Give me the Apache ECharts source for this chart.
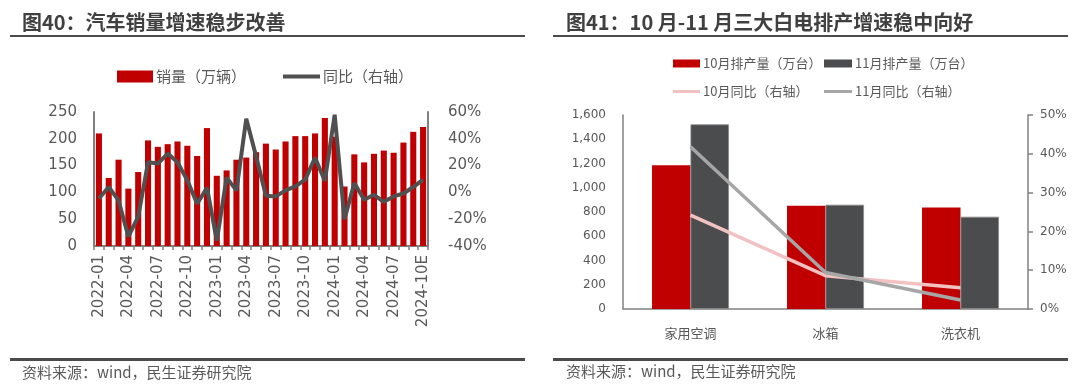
<!DOCTYPE html>
<html>
<head>
<meta charset="utf-8">
<script src="https://cdn.jsdelivr.net/npm/echarts@6/dist/echarts.min.js"></script>
<style>
html,body{margin:0;padding:0;background:#fff;}
#main{width:1080px;height:390px;}
</style>
</head>
<body>
<div id="main"></div>
<script>
// ---- Left chart data ----
var months = ['2022-01','2022-02','2022-03','2022-04','2022-05','2022-06','2022-07','2022-08','2022-09','2022-10','2022-11','2022-12',
  '2023-01','2023-02','2023-03','2023-04','2023-05','2023-06','2023-07','2023-08','2023-09','2023-10','2023-11','2023-12',
  '2024-01','2024-02','2024-03','2024-04','2024-05','2024-06','2024-07','2024-08','2024-09','2024-10E'];
var salesData = [210,127,161,107,138,197,185,190,195,187,168,220,131,141,161,165,175,191,180,195,205,205,210,239,204,111,171,156,172,178,174,193,213,222];
var yoyData = [-4.6,4,-6,-33,-18,22.5,21.5,29,22.5,9,-8.5,3.5,-36,11,1.5,55,27,-2.5,-3,1.5,4.5,9.5,26,8.5,58,-20,7,-5.5,-1.8,-7,-3,-0.8,4,9.5];
var leftTicks = [0,50,100,150,200,250];
var rightTicks = [-40,-20,0,20,40,60];

// ---- Right chart data ----
var appliances = ['家用空调','冰箱','洗衣机'];
var octProd = [1185,852,838];
var novProd = [1523,860,761];
var octYoY = [24.2,8.6,5.5];
var novYoY = [41.8,9.4,2.3];

var CJK = 'Noto Sans CJK SC';
var NUM = 'DejaVu Sans';
var txt = '#595959';
var axisC = '#808080';

var chart = echarts.init(document.getElementById('main'), null, {renderer:'canvas'});

function legendBox(name, left, top, size, iw, ih){
  return {data:[{name:name, icon:'rect'}], left:left, top:top, itemWidth:iw, itemHeight:ih, itemGap:0,
    itemStyle:{borderWidth:0},
    textStyle:{fontFamily:CJK, fontSize:size, color:txt, padding:[0,0,0,-2]}, padding:0};
}

var option = {
  backgroundColor:'#fff',
  animation:false,
  legend:[
    legendBox('销量（万辆）',117,69,15,36,12),
    legendBox('同比（右轴）',283,69,15,37,4),
    legendBox('10月排产量（万台）',673,57,13,27,8),
    legendBox('11月排产量（万台）',824,57,13,28,8),
    legendBox('10月同比（右轴）',673,85,13,27,3),
    legendBox('11月同比（右轴）',824,85,13,28,3)
  ],
  grid:[
    {left:94, top:112, width:334, height:134},
    {left:623, top:115, width:405, height:194}
  ],
  xAxis:[
    {type:'category', gridIndex:0, data:months, boundaryGap:true,
      axisLine:{lineStyle:{color:axisC, width:2}},
      axisTick:{show:true, interval:0, length:4, lineStyle:{color:axisC, width:1.5}},
      axisLabel:{interval:2, rotate:90, margin:9, color:txt, fontFamily:NUM, fontSize:15}},
    {type:'category', gridIndex:1, data:appliances, boundaryGap:true,
      axisLine:{lineStyle:{color:axisC, width:1.5}},
      axisTick:{show:false},
      axisLabel:{margin:18, color:txt, fontFamily:CJK, fontSize:13}}
  ],
  yAxis:[
    {type:'value', gridIndex:0, min:leftTicks[0], max:leftTicks[leftTicks.length-1], interval:50,
      axisLine:{show:true, lineStyle:{color:axisC, width:2}}, axisTick:{show:false}, splitLine:{show:false},
      axisLabel:{margin:17, color:txt, fontFamily:NUM, fontSize:15}},
    {type:'value', gridIndex:0, position:'right', min:rightTicks[0], max:rightTicks[rightTicks.length-1], interval:20,
      axisLine:{show:true, lineStyle:{color:axisC, width:2}}, axisTick:{show:false}, splitLine:{show:false},
      axisLabel:{margin:20, color:txt, fontFamily:NUM, fontSize:15, formatter:'{value}%'}},
    {type:'value', gridIndex:1, min:0, max:1600, interval:200,
      axisLine:{show:true, lineStyle:{color:axisC, width:1.5}}, axisTick:{show:false}, splitLine:{show:false},
      axisLabel:{margin:17, color:txt, fontFamily:NUM, fontSize:12,
        formatter:function(v){return v.toLocaleString('en-US');}}},
    {type:'value', gridIndex:1, position:'right', min:0, max:50, interval:10,
      axisLine:{show:true, lineStyle:{color:axisC, width:1.5}},
      axisTick:{show:true, inside:false, length:5, lineStyle:{color:axisC, width:1.5}}, splitLine:{show:false},
      axisLabel:{margin:12, color:txt, fontFamily:NUM, fontSize:12, formatter:'{value}%'}}
  ],
  series:[
    {name:'销量（万辆）', type:'bar', xAxisIndex:0, yAxisIndex:0, data:salesData, barWidth:'62%',
      itemStyle:{color:'#C00000'}},
    {name:'同比（右轴）', type:'line', xAxisIndex:0, yAxisIndex:1, data:yoyData, symbol:'none',
      lineStyle:{color:'#505050', width:4}, itemStyle:{color:'#505050'}, z:5},
    {name:'10月排产量（万台）', type:'bar', xAxisIndex:1, yAxisIndex:2, data:octProd, barWidth:'28.5%', barGap:'0%',
      itemStyle:{color:'#C00000'}},
    {name:'11月排产量（万台）', type:'bar', xAxisIndex:1, yAxisIndex:2, data:novProd, barWidth:'28.5%', barGap:'0%',
      itemStyle:{color:'#4B4C4E', borderColor:'#8c8c8c', borderWidth:0.8}},
    {name:'10月同比（右轴）', type:'line', xAxisIndex:1, yAxisIndex:3, data:octYoY, symbol:'none',
      lineStyle:{color:'#F2C2C3', width:3.5}, itemStyle:{color:'#F2C2C3'}, z:5},
    {name:'11月同比（右轴）', type:'line', xAxisIndex:1, yAxisIndex:3, data:novYoY, symbol:'none',
      lineStyle:{color:'#A6A6A6', width:3.5}, itemStyle:{color:'#A6A6A6'}, z:6}
  ],
  graphic:[
    {type:'text', left:22, top:12, style:{text:'图40：汽车销量增速稳步改善', fontFamily:CJK, fontSize:20, fontWeight:'bold', fill:'#404040'}},
    {type:'text', left:566, top:12, style:{text:'图41：10 月-11 月三大白电排产增速稳中向好', fontFamily:CJK, fontSize:20, fontWeight:'bold', fill:'#404040'}},
    {type:'rect', shape:{x:10, y:35, width:515, height:2}, style:{fill:'#4a4a4a'}},
    {type:'rect', shape:{x:553, y:35, width:515, height:2}, style:{fill:'#4a4a4a'}},
    {type:'rect', shape:{x:10, y:358, width:515, height:3}, style:{fill:'#4a4a4a'}},
    {type:'rect', shape:{x:553, y:358, width:515, height:3}, style:{fill:'#4a4a4a'}},
    {type:'text', left:22, top:365, style:{text:'资料来源：wind，民生证券研究院', fontFamily:CJK, fontSize:15, fill:txt}},
    {type:'text', left:566, top:364, style:{text:'资料来源：wind，民生证券研究院', fontFamily:CJK, fontSize:15, fill:txt}}
  ]
};
chart.setOption(option);
</script>
</body>
</html>
